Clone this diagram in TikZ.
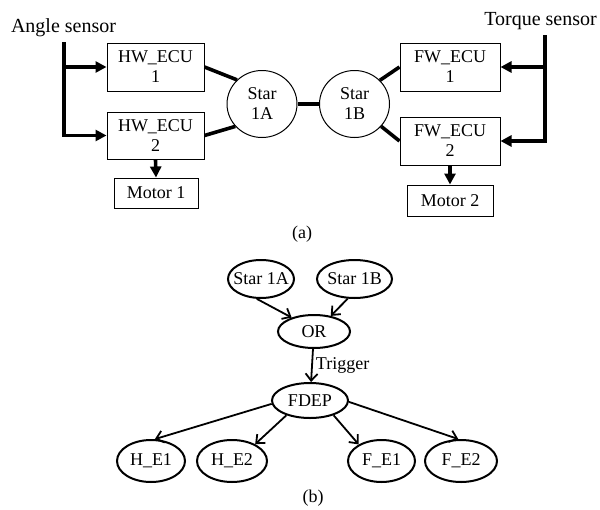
\documentclass[tikz,border=0pt]{standalone}
\usepackage{fontspec}
\setmainfont{Liberation Serif}
\usetikzlibrary{arrows.meta,shapes.geometric}

\begin{document}
\begin{tikzpicture}[x=1pt,y=-1pt,
    font=\fontsize{18}{20}\selectfont,
    ecu/.style={draw,line width=1pt,align=center,inner sep=0pt},
    star/.style={draw,ellipse,line width=1pt,align=center,inner sep=-6pt,minimum width=70pt,minimum height=67pt},
    bus/.style={line width=3.6pt},
    feed/.style={line width=3.6pt,-{Triangle[length=11pt,width=11pt]}},
    gate/.style={draw,ellipse,line width=2pt,inner xsep=-12pt,inner ysep=0pt},
    dep/.style={line width=1.8pt,-{Straight Barb[length=7pt,width=12pt]}}]
      \useasboundingbox (0,0) rectangle (600,509);

      % Sensor labels
      \node[inner sep=0pt,font=\fontsize{20}{22}\selectfont] (angle) at (63.5,28) {Angle sensor};
      \node[inner sep=0pt,font=\fontsize{20}{22}\selectfont] (torque) at (540.5,21.5) {Torque sensor};

      % ECU boxes and motors
      \node[ecu,minimum width=97pt,minimum height=48pt] (hw1) at (155.5,67) {HW\_ECU\\1};
      \node[ecu,minimum width=97pt,minimum height=47pt] (hw2) at (155.5,135.5) {HW\_ECU\\2};
      \node[ecu,minimum width=84pt,minimum height=30pt] (m1) at (156,193) {Motor 1};
      \node[ecu,minimum width=100pt,minimum height=48pt] (fw1) at (450,67) {FW\_ECU\\1};
      \node[ecu,minimum width=100pt,minimum height=48pt] (fw2) at (450,141) {FW\_ECU\\2};
      \node[ecu,minimum width=86pt,minimum height=31pt] (m2) at (450,200.5) {Motor 2};

      % Star couplers
      \node[star] (s1a) at (262,104) {Star\\1A};
      \node[star] (s1b) at (354.5,104) {Star\\1B};

      % Sensor feeds
      \coordinate (atop) at (64,42);
      \coordinate (ttop) at (545,35);
      \draw[feed] (atop) |- (hw2.west);
      \draw[feed] (atop |- hw1.west) -- (hw1.west);
      \draw[feed] (ttop) |- (fw2.east);
      \draw[feed] (ttop |- fw1.east) -- (fw1.east);

      % ECU to motor
      \draw[feed] (hw2.south) -- (m1.north);
      \draw[feed] (fw2.south) -- (m2.north);

      % Star links
      \draw[bus] (hw1.east) -- (s1a.136);
      \draw[bus] (hw2.east) -- (s1a.220);
      \draw[bus] (s1a.east) -- (s1b.west);
      \draw[bus] (s1b.43) -- (fw1.west);
      \draw[bus] (s1b.-40) -- (fw2.west);

      \node (capa) at (302,234) {(a)};

      % Fault tree events
      \node[gate,minimum width=66pt,minimum height=38pt] (e1a) at (261,279) {Star 1A};
      \node[gate,minimum width=75pt,minimum height=38pt] (e1b) at (354.5,279) {Star 1B};
      \node[gate,minimum width=72pt,minimum height=33pt] (or) at (314,331.5) {OR};
      \node[gate,minimum width=76pt,minimum height=35pt] (fdep) at (310,400.5) {FDEP};
      \node[gate,minimum width=68pt,minimum height=42pt] (he1) at (151,461) {H\_E1};
      \node[gate,minimum width=70pt,minimum height=42pt] (he2) at (232,461) {H\_E2};
      \node[gate,minimum width=67pt,minimum height=42pt] (fe1) at (381.5,461) {F\_E1};
      \node[gate,minimum width=72pt,minimum height=42pt] (fe2) at (461,461) {F\_E2};

      % Dependencies
      \draw[dep] (e1a.258) -- (or.148);
      \draw[dep] (e1b.251) -- (or.43);
      \draw[dep] (or) -- node[anchor=west,inner sep=3pt] (trig) {Trigger} (fdep);
      \draw[dep] (fdep.185) -- (he1.80);
      \draw[dep] (fdep.212) -- (he2.36);
      \draw[dep] (fdep.328) -- (fe1.144);
      \draw[dep] (fdep.358) -- (fe2.97);

      \node (capb) at (313,498) {(b)};
\end{tikzpicture}
\end{document}
